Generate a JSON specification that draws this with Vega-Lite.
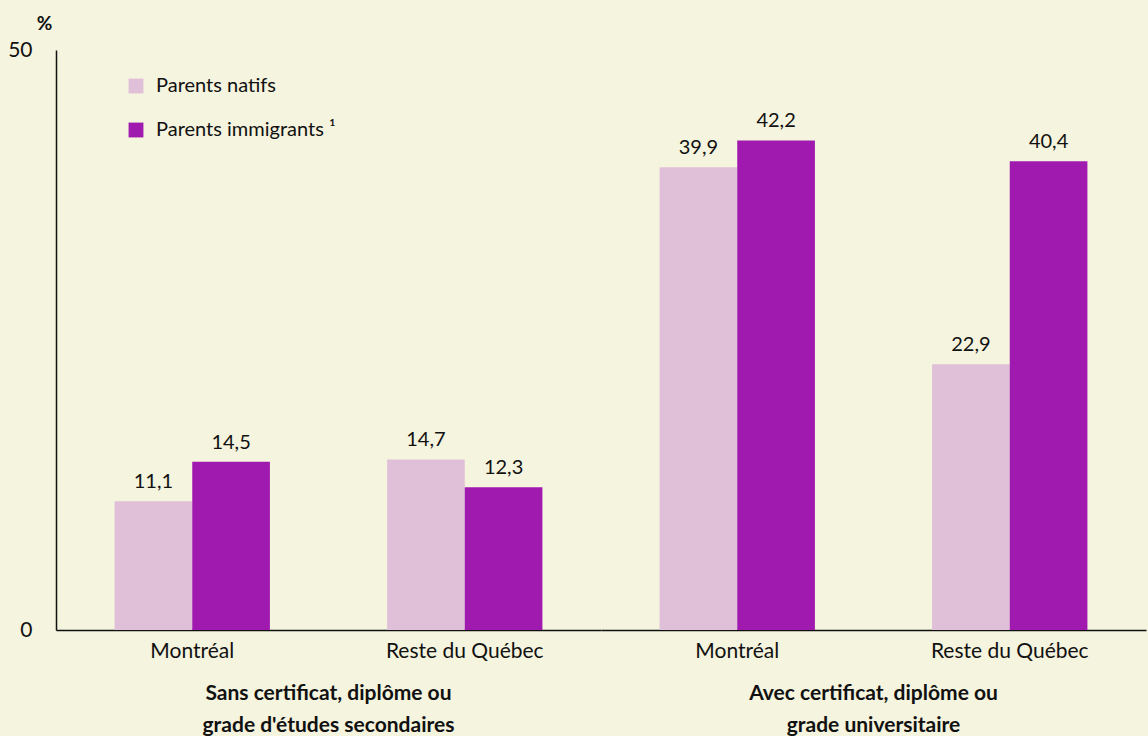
{
  "$schema": "https://vega.github.io/schema/vega-lite/v6.json",
  "autosize": {"type": "pad"},
  "padding": {"left": 7, "top": 14, "right": 3, "bottom": 2},
  "background": "#F5F4DE",
  "data": {
    "values": [
      {"groupe": "Sans certificat, diplôme ou|grade d'études secondaires", "region": "Montréal", "parents": "Parents natifs", "valeur": 11.1},
      {"groupe": "Sans certificat, diplôme ou|grade d'études secondaires", "region": "Montréal", "parents": "Parents immigrants ¹", "valeur": 14.5},
      {"groupe": "Sans certificat, diplôme ou|grade d'études secondaires", "region": "Reste du Québec", "parents": "Parents natifs", "valeur": 14.7},
      {"groupe": "Sans certificat, diplôme ou|grade d'études secondaires", "region": "Reste du Québec", "parents": "Parents immigrants ¹", "valeur": 12.3},
      {"groupe": "Avec certificat, diplôme ou|grade universitaire", "region": "Montréal", "parents": "Parents natifs", "valeur": 39.9},
      {"groupe": "Avec certificat, diplôme ou|grade universitaire", "region": "Montréal", "parents": "Parents immigrants ¹", "valeur": 42.2},
      {"groupe": "Avec certificat, diplôme ou|grade universitaire", "region": "Reste du Québec", "parents": "Parents natifs", "valeur": 22.9},
      {"groupe": "Avec certificat, diplôme ou|grade universitaire", "region": "Reste du Québec", "parents": "Parents immigrants ¹", "valeur": 40.4}
    ]
  },
  "facet": {
    "column": {
      "field": "groupe",
      "type": "nominal",
      "sort": ["Sans certificat, diplôme ou|grade d'études secondaires", "Avec certificat, diplôme ou|grade universitaire"],
      "title": null,
      "header": {
        "labelOrient": "bottom",
        "labelExpr": "split(datum.label, '|')",
        "labelFontWeight": "bold",
        "labelFontSize": 21,
        "labelFont": "Lato",
        "labelColor": "#111111",
        "labelLineHeight": 32,
        "labelPadding": 22,
        "labelBaseline": "top",
        "labelLimit": 0
      }
    }
  },
  "spacing": 0,
  "spec": {
    "width": 545,
    "height": 580,
    "encoding": {
      "x": {
        "field": "region",
        "type": "nominal",
        "sort": ["Montréal", "Reste du Québec"],
        "scale": {"paddingInner": 0.43, "paddingOuter": 0.215},
        "axis": {
          "title": null,
          "labelAngle": 0,
          "ticks": false,
          "labelPadding": 10,
          "labelFontSize": 21,
          "labelFont": "Lato",
          "labelColor": "#111111",
          "domainColor": "#111111",
          "domainWidth": 1.5,
          "labelLimit": 0
        }
      },
      "xOffset": {"field": "parents", "type": "nominal", "sort": ["Parents natifs", "Parents immigrants ¹"]},
      "y": {
        "field": "valeur",
        "type": "quantitative",
        "scale": {"domain": [0, 50]},
        "axis": {
          "values": [0, 50],
          "grid": false,
          "ticks": false,
          "title": "%",
          "titleAngle": 0,
          "titleX": -12,
          "titleY": -27,
          "titleAlign": "center",
          "titleBaseline": "middle",
          "titleFontSize": 19,
          "titleFont": "Lato",
          "titleFontWeight": "bold",
          "titleColor": "#111111",
          "labelPadding": 24,
          "labelFontSize": 21,
          "labelFont": "Lato",
          "labelColor": "#111111",
          "domainColor": "#111111",
          "domainWidth": 1.5
        }
      }
    },
    "layer": [
      {
        "mark": {"type": "bar"},
        "encoding": {
          "color": {
            "field": "parents",
            "type": "nominal",
            "sort": ["Parents natifs", "Parents immigrants ¹"],
            "scale": {"domain": ["Parents natifs", "Parents immigrants ¹"], "range": ["#E0C0D9", "#A01AB0"]},
            "legend": {
              "title": null,
              "orient": "none",
              "legendX": 70,
              "legendY": 26,
              "symbolType": "square",
              "symbolSize": 220,
              "symbolStrokeWidth": 0,
              "symbolOpacity": 1,
              "labelFontSize": 20,
              "labelFont": "Lato",
              "labelColor": "#111111",
              "labelOffset": 10,
              "labelLimit": 0,
              "rowPadding": 24
            }
          }
        }
      },
      {
        "mark": {"type": "text", "baseline": "bottom", "dy": -9, "fontSize": 20, "font": "Lato", "color": "#111111"},
        "encoding": {
          "text": {"field": "valeur", "type": "quantitative", "format": ".1f"}
        }
      }
    ]
  },
  "config": {
    "view": {"stroke": null},
    "locale": {"number": {"decimal": ",", "thousands": "\u00a0", "grouping": [3], "currency": ["", " $"]}}
  }
}
